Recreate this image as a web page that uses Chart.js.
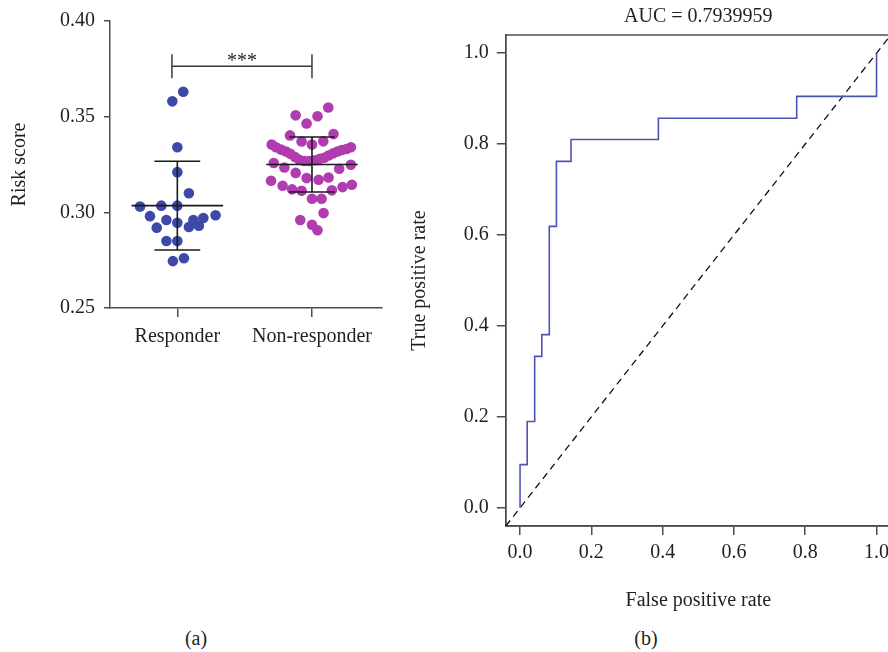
<!DOCTYPE html>
<html>
<head>
<meta charset="utf-8">
<script src="https://cdn.jsdelivr.net/npm/chart.js@4.4.1/dist/chart.umd.min.js"></script>
<style>
  html, body { margin: 0; padding: 0; background: #fff; overflow: hidden; }
  body { width: 888px; height: 652px; position: relative; font-family: "Liberation Serif", serif; color: #231f20; }
  canvas { position: absolute; top: 0; }
  #riskChart { left: 0; }
  #rocChart { left: 400px; }
  .tag { position: absolute; top: 626px; width: 60px; font-size: 20px; line-height: 24px; text-align: center; }
</style>
</head>
<body>
<canvas id="riskChart" width="400" height="360"></canvas>
<canvas id="rocChart" width="500" height="620"></canvas>
<div class="tag" style="left:166px">(a)</div>
<div class="tag" style="left:616px">(b)</div>
<script>
// datos del panel (a): puntaje de riesgo por grupo
const groups = ['Responder', 'Non-responder'];
const riskTicks = [0.25, 0.30, 0.35, 0.40];

const responderScores = [0.363, 0.358, 0.334, 0.321, 0.310, 0.303, 0.3035, 0.3035, 0.298, 0.2985, 0.297,
  0.296, 0.296, 0.2945, 0.292, 0.2923, 0.293, 0.285, 0.285, 0.276, 0.2745];
const responderSpread = [0.044, -0.037, 0, 0, 0.086, -0.277, -0.119, 0, -0.203, 0.284, 0.193,
  0.119, -0.081, 0, -0.153, 0.086, 0.16, -0.081, 0, 0.049, -0.033];

const nonResponderScores = [0.3548, 0.3507, 0.3502, 0.3464, 0.3402, 0.3409, 0.3370, 0.3371, 0.3354,
  0.3354, 0.3340, 0.3328, 0.3318, 0.3306, 0.3289, 0.3275, 0.3268, 0.3268, 0.3272, 0.3280, 0.3285,
  0.3297, 0.3309, 0.3318, 0.3326, 0.3331, 0.3340,
  0.3258, 0.3234, 0.3249, 0.3228, 0.3206, 0.3179, 0.3170, 0.3182, 0.3165, 0.3139, 0.3120, 0.3113,
  0.3115, 0.3132, 0.3144, 0.3071, 0.3071, 0.2996, 0.2960, 0.2935, 0.2906];
const nonResponderSpread = [0.121, -0.121, 0.041, -0.04, -0.163, 0.16, -0.077, 0.084, 0,
  -0.299, -0.267, -0.23, -0.193, -0.161, -0.126, -0.094, -0.057, -0.02, 0.024, 0.059, 0.091,
  0.123, 0.158, 0.19, 0.222, 0.256, 0.289,
  -0.284, -0.205, 0.289, 0.202, -0.121, -0.04, 0.049, 0.123, -0.304, -0.218, -0.148, -0.077,
  0.148, 0.227, 0.296, 0, 0.071, 0.086, -0.087, 0, 0.041];

const bracketX = [0.46, 1.5];
const bracketY = 0.3763;
const bracketLabel = '***';

// datos del panel (b): curva ROC
const rocFpr = [0, 0.020, 0.041, 0.061, 0.082, 0.102, 0.143, 0.388, 0.776, 1.0, 1.0];
const rocTpr = [0, 0.095, 0.190, 0.333, 0.381, 0.619, 0.762, 0.810, 0.857, 0.905, 1.0];
const rateTicks = [0, 0.2, 0.4, 0.6, 0.8, 1.0];
const rateRange = [-0.04, 1.04];
const aucValue = '0.7939959';

const FONT = '"Liberation Serif", "Times New Roman", serif';
const TEXT = '#231f20';
const AXIS = '#4d4d4d';

function mean(a) { return a.reduce((s, v) => s + v, 0) / a.length; }
function sd(a) {
  const m = mean(a);
  return Math.sqrt(a.reduce((s, v) => s + (v - m) * (v - m), 0) / (a.length - 1));
}
function swarm(scores, spread, col) {
  return scores.map((v, i) => ({ x: col + 0.5 + spread[i], y: v }));
}

function axisOpts(tickLen, pad) {
  return {
    grid: { drawOnChartArea: false, drawTicks: true, tickLength: tickLen, color: AXIS, lineWidth: 1.5 },
    border: { display: true, color: AXIS, width: 1.5 },
    ticks: { color: TEXT, font: { family: FONT, size: 20 }, padding: pad, maxRotation: 0, autoSkip: false }
  };
}

// media +/- DE y corchete de significancia
const summaryBars = {
  id: 'summaryBars',
  afterDatasetsDraw(chart) {
    const { ctx, scales: { x, y } } = chart;
    const hl = (a, b, v) => {
      ctx.beginPath();
      ctx.moveTo(x.getPixelForValue(a), y.getPixelForValue(v));
      ctx.lineTo(x.getPixelForValue(b), y.getPixelForValue(v));
      ctx.stroke();
    };
    ctx.save();
    ctx.strokeStyle = '#1a1a1a';
    ctx.lineWidth = 1.6;
    [responderScores, nonResponderScores].forEach((vals, i) => {
      const c = i + 0.5, m = mean(vals), s = sd(vals);
      hl(c - 0.34, c + 0.34, m);
      hl(c - 0.17, c + 0.17, m + s);
      hl(c - 0.17, c + 0.17, m - s);
      ctx.beginPath();
      ctx.moveTo(x.getPixelForValue(c), y.getPixelForValue(m + s));
      ctx.lineTo(x.getPixelForValue(c), y.getPixelForValue(m - s));
      ctx.stroke();
    });
    ctx.strokeStyle = '#3a3a3a';
    ctx.lineWidth = 1.5;
    hl(bracketX[0], bracketX[1], bracketY);
    const by = y.getPixelForValue(bracketY);
    bracketX.forEach(v => {
      const px = x.getPixelForValue(v);
      ctx.beginPath();
      ctx.moveTo(px, by - 12);
      ctx.lineTo(px, by + 12);
      ctx.stroke();
    });
    ctx.fillStyle = TEXT;
    ctx.font = '20px ' + FONT;
    ctx.textAlign = 'center';
    ctx.textBaseline = 'alphabetic';
    ctx.fillText(bracketLabel, x.getPixelForValue((bracketX[0] + bracketX[1]) / 2), by + 1);
    ctx.restore();
  }
};

// marco completo del panel ROC
const plotFrame = {
  id: 'plotFrame',
  beforeDatasetsDraw(chart) {
    const { ctx, chartArea: a } = chart;
    ctx.save();
    ctx.strokeStyle = AXIS;
    ctx.lineWidth = 1.5;
    ctx.strokeRect(a.left, a.top, a.right - a.left, a.bottom - a.top);
    ctx.restore();
  }
};

const riskX = axisOpts(9, 8);
riskX.min = 0;
riskX.max = 2.02;
riskX.afterBuildTicks = s => { s.ticks = groups.map((g, i) => ({ value: i + 0.5 })); };
riskX.ticks.callback = (v, i) => groups[i];
riskX.afterFit = s => { s.height = 52; };

const riskY = axisOpts(6, 9);
riskY.min = 0.25;
riskY.max = 0.40;
riskY.afterBuildTicks = s => { s.ticks = riskTicks.map(v => ({ value: v })); };
riskY.ticks.callback = v => v.toFixed(2);
riskY.afterFit = s => { s.width = 110; };
riskY.title = { display: true, text: 'Risk score', color: TEXT, font: { family: FONT, size: 20 }, padding: { top: 8, bottom: 0 } };

new Chart(document.getElementById('riskChart'), {
  type: 'scatter',
  data: {
    datasets: [
      { data: swarm(responderScores, responderSpread, 0), backgroundColor: '#3e48a8', pointRadius: 5.3, borderWidth: 0 },
      { data: swarm(nonResponderScores, nonResponderSpread, 1), backgroundColor: '#b03cb0', pointRadius: 5.3, borderWidth: 0 }
    ]
  },
  options: {
    responsive: false,
    animation: false,
    devicePixelRatio: 1,
    layout: { padding: { top: 17, right: 18, left: 0, bottom: 0 } },
    plugins: { legend: { display: false }, tooltip: { enabled: false } },
    scales: { x: riskX, y: riskY }
  },
  plugins: [summaryBars]
});

const rocX = axisOpts(9, 6);
rocX.min = rateRange[0];
rocX.max = rateRange[1];
rocX.afterBuildTicks = s => { s.ticks = rateTicks.map(v => ({ value: v })); };
rocX.ticks.callback = v => v.toFixed(1);
rocX.afterFit = s => { s.height = 94; };
rocX.title = { display: true, text: 'False positive rate', color: TEXT, font: { family: FONT, size: 20 }, padding: { top: 0, bottom: 7 } };

const rocY = axisOpts(9, 8);
rocY.min = rateRange[0];
rocY.max = rateRange[1];
rocY.afterBuildTicks = s => { s.ticks = rateTicks.map(v => ({ value: v })); };
rocY.ticks.callback = v => v.toFixed(1);
rocY.afterFit = s => { s.width = 105.8; };
rocY.title = { display: true, text: 'True positive rate', color: TEXT, font: { family: FONT, size: 20 }, padding: { top: 8, bottom: 0 } };

new Chart(document.getElementById('rocChart'), {
  type: 'scatter',
  data: {
    datasets: [
      {
        data: rocFpr.map((f, i) => ({ x: f, y: rocTpr[i] })),
        showLine: true, stepped: 'after', borderColor: '#4d53b3', borderWidth: 1.6, pointRadius: 0
      },
      {
        data: rateRange.map(v => ({ x: v, y: v })),
        showLine: true, borderColor: '#111', borderWidth: 1.3, borderDash: [7, 5], pointRadius: 0
      }
    ]
  },
  options: {
    responsive: false,
    animation: false,
    devicePixelRatio: 1,
    layout: { padding: { top: 0, right: 9.2, left: 0, bottom: 0 } },
    plugins: {
      legend: { display: false },
      tooltip: { enabled: false },
      title: {
        display: true, text: 'AUC = ' + aucValue, fullSize: false, color: TEXT,
        font: { family: FONT, size: 20, weight: 'normal' }, padding: { top: 5, bottom: 6 }
      }
    },
    scales: { x: rocX, y: rocY }
  },
  plugins: [plotFrame]
});
</script>
</body>
</html>
